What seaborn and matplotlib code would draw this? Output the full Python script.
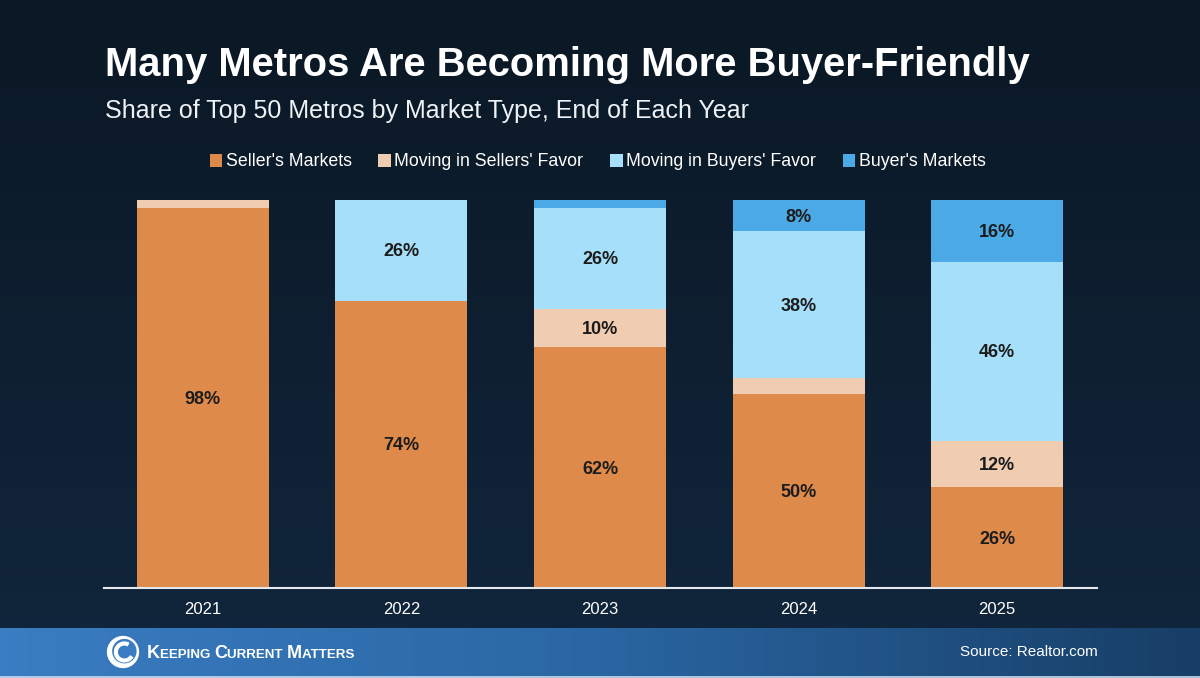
import matplotlib
matplotlib.use("Agg")
import matplotlib.pyplot as plt
from matplotlib.offsetbox import TextArea, HPacker, AnchoredOffsetbox
from matplotlib.patches import Patch, Circle, Arc
import numpy as np
import pandas as pd
import seaborn as sns

years = ["2021", "2022", "2023", "2024", "2025"]
categories = ["Seller's Markets", "Moving in Sellers' Favor",
              "Moving in Buyers' Favor", "Buyer's Markets"]
sellers_markets = [98, 74, 62, 50, 26]
moving_sellers = [2, 0, 10, 4, 12]
moving_buyers = [0, 26, 26, 38, 46]
buyers_markets = [0, 0, 2, 8, 16]
colors = ["#de8a4a", "#f0cdb0", "#a6dff9", "#4ba9e6"]

title = "Many Metros Are Becoming More Buyer-Friendly"
subtitle = "Share of Top 50 Metros by Market Type, End of Each Year"
source = "Source: Realtor.com"

series = [sellers_markets, moving_sellers, moving_buyers, buyers_markets]
df = pd.DataFrame({"year": years})
for name, vals in zip(categories, series):
    df[name] = vals
cum = df[categories].cumsum(axis=1)

sns.set_style("white")
plt.rcParams["font.family"] = ["Liberation Sans", "DejaVu Sans"]

fig = plt.figure(figsize=(12, 6.78), dpi=100)
fig.patch.set_facecolor("#0e1f31")

# background gradient (darker at the top)
bg = fig.add_axes([0, 0, 1, 1], zorder=-10)
grad = np.linspace(0, 1, 256).reshape(-1, 1)
bg.imshow(grad, aspect="auto", extent=[0, 1, 0, 1],
          cmap=matplotlib.colors.LinearSegmentedColormap.from_list("bg", ["#0b1825", "#11263d"]))
# footer band
foot = np.linspace(0, 1, 256).reshape(1, -1)
bg.imshow(foot, aspect="auto", extent=[0, 1, 0, 50 / 678],
          cmap=matplotlib.colors.LinearSegmentedColormap.from_list("ft", ["#3a7dc2", "#2a66a3", "#173e66"]))
bg.axhline(1.5 / 678, color="#c9dcef", lw=1.2)
bg.set_xlim(0, 1)
bg.set_ylim(0, 1)
bg.axis("off")

ax = fig.add_axes([103.5 / 1200, 90 / 678, 993 / 1200, 388 / 678])
ax.set_facecolor("none")

# draw from the top layer down so each bar covers the one below
for i in range(len(categories) - 1, -1, -1):
    sns.barplot(x=df["year"], y=cum[categories[i]], color=colors[i],
                width=0.665, saturation=1, ax=ax, linewidth=0)

for i, name in enumerate(categories):
    for j, v in enumerate(df[name]):
        if v >= 8:
            ax.text(j, cum[name][j] - v / 2 - 0.4, f"{v}%", ha="center", va="center",
                    fontsize=13, fontweight="bold", color="#1c1c1c", zorder=10)

ax.set_ylim(0, 100)
ax.set_xlim(-0.5, len(years) - 0.5)
ax.set_xlabel("")
ax.set_ylabel("")
ax.set_yticks([])
ax.tick_params(axis="x", colors="#ffffff", labelsize=12, length=0, pad=10)
for s in ["top", "right", "left"]:
    ax.spines[s].set_visible(False)
ax.spines["bottom"].set_color("#e2e8ee")
ax.spines["bottom"].set_linewidth(1.5)

fig.text(105 / 1200, 1 - 65 / 678, title, color="white", fontsize=28.8,
         fontweight="bold", va="center", ha="left")
fig.text(105 / 1200, 1 - 111 / 678, subtitle, color="#eef2f6", fontsize=18,
         va="center", ha="left")

handles = [Patch(facecolor=c, edgecolor="none") for c in colors]
fig.legend(handles, categories, loc="center", bbox_to_anchor=(0.498, 1 - 162 / 678),
           ncol=4, frameon=False, fontsize=12.8, labelcolor="white",
           handlelength=0.7, handleheight=0.7, handletextpad=0.2, columnspacing=1.5)

fig.text(1098 / 1200, 1 - 652 / 678, source, color="white", fontsize=11,
         ha="right", va="center")

# logo text in small caps
parts = []
for w in ["Keeping", "Current", "Matters"]:
    parts.append(TextArea(w[0], textprops=dict(color="white", fontsize=13, fontweight="bold")))
    parts.append(TextArea(w[1:].upper() + " ", textprops=dict(color="white", fontsize=9.6, fontweight="bold")))
box = HPacker(children=parts, align="baseline", pad=0, sep=0)
anch = AnchoredOffsetbox(loc="center left", child=box, frameon=False,
                         bbox_to_anchor=(147 / 1200, 1 - 653 / 678),
                         bbox_transform=fig.transFigure, borderpad=0, pad=0)
fig.add_artist(anch)

# logo swirl
lg = fig.add_axes([106 / 1200, 1 - 669 / 678, 34 / 1200, 34 / 678])
lg.set_xlim(-1, 1)
lg.set_ylim(-1, 1)
lg.set_aspect("equal")
lg.axis("off")
lg.add_patch(Circle((0, 0), 0.95, facecolor="white", edgecolor="none"))
lg.add_patch(Circle((0.08, 0.05), 0.72, facecolor="#3a7dc2", edgecolor="none"))
lg.add_patch(Arc((0.08, 0.0), 1.0, 1.0, theta1=60, theta2=330, color="white", lw=3))
lg.add_patch(Circle((0.12, 0.02), 0.22, facecolor="#3a7dc2", edgecolor="none"))

fig.savefig("out.png", dpi=100, facecolor=fig.get_facecolor())
